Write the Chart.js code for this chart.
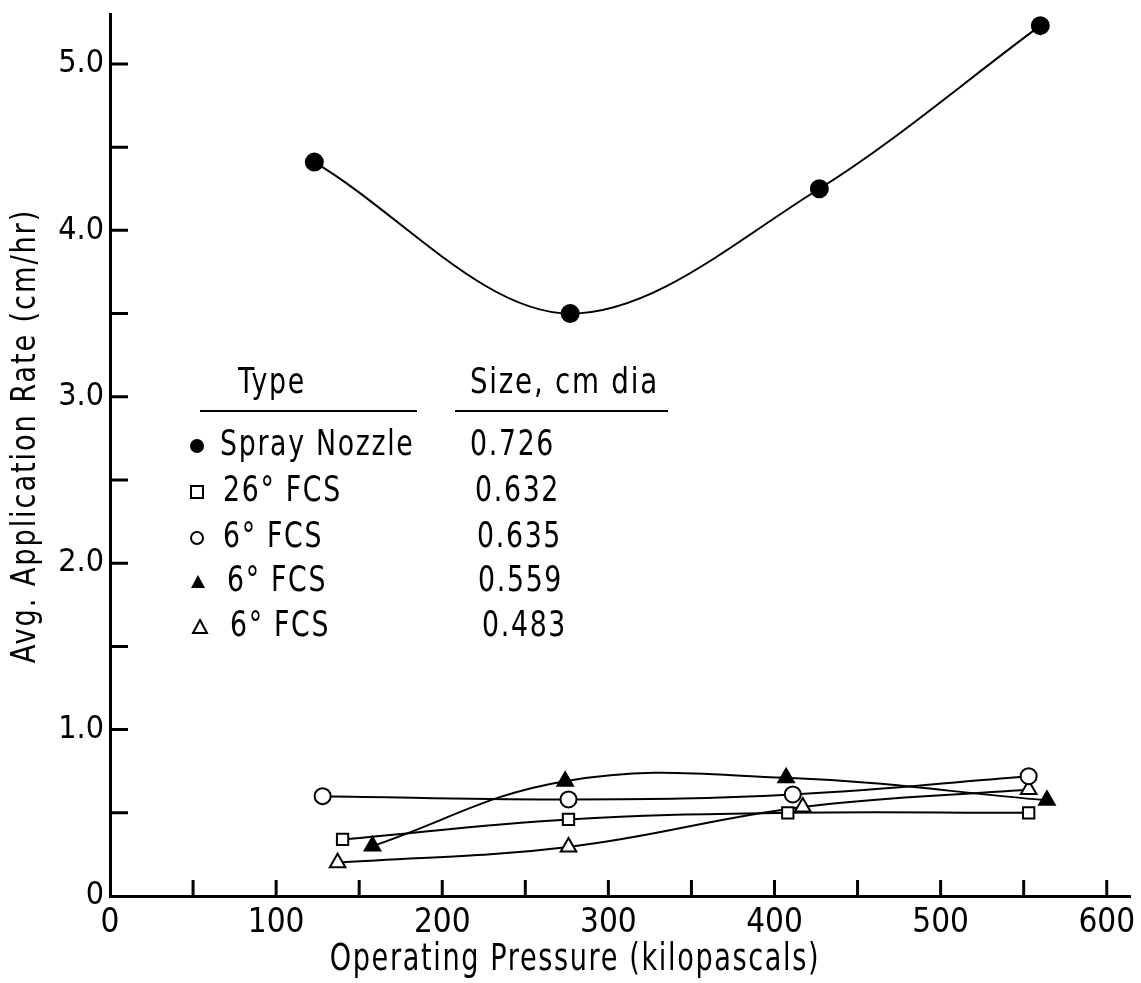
<!DOCTYPE html>
<html>
<head>
<meta charset="utf-8">
<script src="https://cdn.jsdelivr.net/npm/chart.js@4/dist/chart.umd.min.js"></script>
<style>
  html, body { margin: 0; padding: 0; background: #fff; }
  #wrap { width: 1141px; height: 983px; }
</style>
</head>
<body>
<div id="wrap"><canvas id="rateChart" width="1141" height="983"></canvas></div>
<script>
// --- data ---
const sprayX = [123, 277, 427, 560];
const sprayY = [4.41, 3.50, 4.25, 5.23];

const fcs26X = [140, 276, 408, 553];
const fcs26Y = [0.34, 0.46, 0.50, 0.50];

const fcs635X = [128, 276, 411, 553];
const fcs635Y = [0.60, 0.58, 0.61, 0.72];

const fcs559X = [158, 274, 407, 564];
const fcs559Y = [0.30, 0.69, 0.71, 0.575];

const fcs483X = [137, 276, 417, 553];
const fcs483Y = [0.20, 0.295, 0.535, 0.64];

const xTicks = [0, 50, 100, 150, 200, 250, 300, 350, 400, 450, 500, 550, 600];
const yTicks = [0, 0.5, 1, 1.5, 2, 2.5, 3, 3.5, 4, 4.5, 5];

const xTitle = 'Operating Pressure (kilopascals)';
const yTitle = 'Avg. Application Rate (cm/hr)';

const legendTypes = ['Spray Nozzle', '26\u00B0 FCS', '6\u00B0 FCS', '6\u00B0 FCS', '6\u00B0 FCS'];
const legendSizes = ['0.726', '0.632', '0.635', '0.559', '0.483'];

const FONT = "'DejaVu Sans Condensed', 'DejaVu Sans', sans-serif";

function pts(xs, ys) {
    return xs.map((x, i) => ({ x: x, y: ys[i] }));
}

function series(label, xs, ys, style, filled, r, mono) {
    return {
        label: label,
        data: pts(xs, ys),
        showLine: true,
        tension: 0.4,
        cubicInterpolationMode: mono ? 'monotone' : 'default',
        borderColor: '#000',
        borderWidth: 2,
        pointStyle: style,
        pointRadius: r,
        pointBorderWidth: 2,
        pointBorderColor: '#000',
        pointBackgroundColor: filled ? '#000' : '#fff'
    };
}

// narrow lettering like the original: draw squeezed text
function squeezed(ctx, text, x, y, sx) {
    ctx.save();
    ctx.translate(x, y);
    ctx.scale(sx, 1);
    ctx.fillText(text, 0, 0);
    ctx.restore();
}

// inward ticks on both axes
const innerTicks = {
    id: 'innerTicks',
    beforeDatasetsDraw(chart) {
        const ctx = chart.ctx;
        const xs = chart.scales.x, ys = chart.scales.y;
        const area = chart.chartArea;
        ctx.save();
        ctx.strokeStyle = '#000';
        ctx.lineWidth = 3;
        ctx.beginPath();
        xTicks.slice(1).forEach(v => {
            const px = xs.getPixelForValue(v);
            ctx.moveTo(px, area.bottom);
            ctx.lineTo(px, area.bottom - 16);
        });
        yTicks.slice(1).forEach(v => {
            const py = ys.getPixelForValue(v);
            ctx.moveTo(area.left, py);
            ctx.lineTo(area.left + 18, py);
        });
        ctx.stroke();
        ctx.restore();
    }
};

function drawMarker(ctx, kind, x, y) {
    ctx.save();
    ctx.lineWidth = 2;
    ctx.strokeStyle = '#000';
    ctx.fillStyle = '#000';
    ctx.beginPath();
    if (kind === 'dot') {
        ctx.arc(x, y, 7, 0, Math.PI * 2);
        ctx.fill();
    } else if (kind === 'square') {
        ctx.rect(x - 6, y - 6, 12, 12);
        ctx.stroke();
    } else if (kind === 'circle') {
        ctx.arc(x, y, 6, 0, Math.PI * 2);
        ctx.stroke();
    } else {
        ctx.moveTo(x, y - 7);
        ctx.lineTo(x + 7, y + 6);
        ctx.lineTo(x - 7, y + 6);
        ctx.closePath();
        if (kind === 'tri') ctx.fill(); else ctx.stroke();
    }
    ctx.restore();
}

// axis titles and the Type / Size table
const annotations = {
    id: 'annotations',
    afterDraw(chart) {
        const ctx = chart.ctx;
        ctx.save();
        ctx.fillStyle = '#000';
        ctx.strokeStyle = '#000';
        ctx.textBaseline = 'middle';
        ctx.letterSpacing = '2px';

        // axis titles
        ctx.textAlign = 'center';
        ctx.font = '37px ' + FONT;
        squeezed(ctx, xTitle, 575, 960, 0.815);
        ctx.save();
        ctx.translate(26, 436);
        ctx.rotate(-Math.PI / 2);
        ctx.font = '33px ' + FONT;
        squeezed(ctx, yTitle, 0, 0, 0.92);
        ctx.restore();

        // table
        ctx.textAlign = 'left';
        ctx.font = '35px ' + FONT;
        squeezed(ctx, 'Type', 238, 384, 0.85);
        squeezed(ctx, 'Size, cm dia', 470, 384, 0.88);
        ctx.lineWidth = 2;
        ctx.beginPath();
        ctx.moveTo(200, 411); ctx.lineTo(417, 411);
        ctx.moveTo(455, 411); ctx.lineTo(668, 411);
        ctx.stroke();

        const kinds = ['dot', 'square', 'circle', 'tri', 'otri'];
        const rowY = [446, 492, 538, 582, 627];
        const typeX = [220, 223, 223, 227, 230];
        const sizeX = [470, 475, 477, 478, 482];
        const markX = [197, 197, 197, 198, 200];
        legendTypes.forEach((t, i) => {
            drawMarker(ctx, kinds[i], markX[i], rowY[i]);
            squeezed(ctx, t, typeX[i], rowY[i], 0.85);
            squeezed(ctx, legendSizes[i], sizeX[i], rowY[i], 0.85);
        });
        ctx.restore();
    }
};

const ctx = document.getElementById('rateChart').getContext('2d');

new Chart(ctx, {
    type: 'scatter',
    data: {
        datasets: [
            series('Spray Nozzle 0.726', sprayX, sprayY, 'circle', true, 8.5, true),
            series('26\u00B0 FCS 0.632', fcs26X, fcs26Y, 'rect', false, 8, false),
            series('6\u00B0 FCS 0.635', fcs635X, fcs635Y, 'circle', false, 8, false),
            series('6\u00B0 FCS 0.559', fcs559X, fcs559Y, 'triangle', true, 9, false),
            series('6\u00B0 FCS 0.483', fcs483X, fcs483Y, 'triangle', false, 9, false)
        ]
    },
    options: {
        responsive: false,
        animation: false,
        layout: {
            padding: { left: 0, top: 14, right: 1, bottom: 0 }
        },
        plugins: {
            legend: { display: false },
            tooltip: { enabled: false }
        },
        scales: {
            x: {
                type: 'linear',
                min: 0,
                max: 614,
                afterBuildTicks: s => { s.ticks = xTicks.map(v => ({ value: v })); },
                afterFit: s => { s.height = 87; s.paddingLeft = 0; s.paddingRight = 0; },
                grid: { display: false, drawTicks: false },
                border: { display: true, color: '#000', width: 3 },
                ticks: {
                    color: '#000',
                    padding: 8,
                    maxRotation: 0,
                    autoSkip: false,
                    font: { family: FONT, size: 33 },
                    callback: v => (v % 100 === 0 ? String(v) : '')
                }
            },
            y: {
                type: 'linear',
                min: 0,
                max: 5.3,
                afterBuildTicks: s => { s.ticks = yTicks.map(v => ({ value: v })); },
                afterFit: s => { s.width = 110; s.paddingTop = 0; s.paddingBottom = 0; },
                grid: { display: false, drawTicks: false },
                border: { display: true, color: '#000', width: 3 },
                ticks: {
                    color: '#000',
                    padding: 6,
                    autoSkip: false,
                    font: { family: FONT, size: 32 },
                    callback: v => (v === 0 ? '0' : (v % 1 === 0 ? v.toFixed(1) : ''))
                }
            }
        }
    },
    plugins: [innerTicks, annotations]
});
</script>
</body>
</html>
